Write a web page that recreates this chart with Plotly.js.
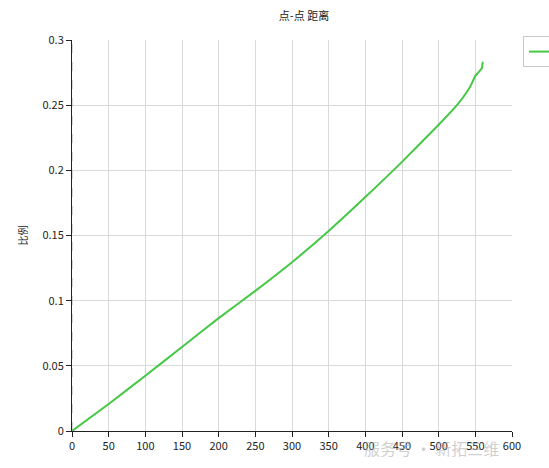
<!DOCTYPE html>
<html>
<head>
<meta charset="utf-8">
<script src="https://cdn.plot.ly/plotly-3.0.1.min.js"></script>
<style>html,body{margin:0;padding:0;background:#fff;}#chart{width:549px;height:468px;}</style>
</head>
<body>
<div id="chart"></div>
<script>
const distance = [0, 50, 100, 150, 200, 250, 300, 350, 400, 450, 500, 525, 540, 545, 550, 554, 557, 559, 560, 561];
const ratio = [0, 0.0207, 0.0424, 0.0645, 0.0866, 0.1075, 0.1295, 0.1535, 0.1795, 0.2065, 0.235, 0.250, 0.2615, 0.2665, 0.2725, 0.2750, 0.2770, 0.2785, 0.2825, 0.2830];
const xTicks = [0, 50, 100, 150, 200, 250, 300, 350, 400, 450, 500, 550, 600];
const yTicks = [0, 0.05, 0.1, 0.15, 0.2, 0.25, 0.3];
const yTickText = ['0', '0.05', '0.1', '0.15', '0.2', '0.25', '0.3'];
const chartTitle = '点-点 距离';
const yTitle = '比例';
const seriesName = '';
const watermark = '服务号 · 新拓三维';

const font = "'Noto Sans CJK SC', 'Open Sans', sans-serif";

const trace = {
  x: distance, y: ratio, type: 'scatter', mode: 'lines', name: seriesName,
  line: {color: '#46c846', width: 2, shape: 'spline', smoothing: 0.5}
};

const layout = {
  width: 549, height: 468,
  margin: {l: 72, r: 37, t: 40, b: 37, autoexpand: false},
  paper_bgcolor: '#fff', plot_bgcolor: '#fff',
  font: {family: font, size: 11, color: '#222'},
  title: {text: chartTitle, x: 304/549, xanchor: 'center', y: 1 - 16/468, yanchor: 'middle',
          font: {family: font, size: 11, color: '#222'}},
  xaxis: {
    range: [0, 600], tickvals: xTicks, ticktext: xTicks.map(String),
    showgrid: true, gridcolor: '#d9d9d9', gridwidth: 1,
    showline: true, linecolor: '#222', linewidth: 1,
    ticks: 'outside', ticklen: 5, tickcolor: '#222', zeroline: false,
    tickfont: {family: font, size: 11, color: '#222'}, fixedrange: true
  },
  yaxis: {
    range: [0, 0.3], tickvals: yTicks, ticktext: yTickText,
    showgrid: true, gridcolor: '#d9d9d9', gridwidth: 1,
    showline: true, linecolor: '#222', linewidth: 1,
    ticks: 'outside', ticklen: 5, tickcolor: '#222', zeroline: false,
    tickfont: {family: font, size: 11, color: '#222'},
    title: {text: yTitle, font: {family: font, size: 10, color: '#222'}, standoff: 12}
  },
  showlegend: true,
  legend: {x: (523-72)/440, xanchor: 'left', y: 1.01, yanchor: 'top',
           bordercolor: '#c8c8c8', borderwidth: 1, bgcolor: '#fff',
           entrywidth: 60, entrywidthmode: 'pixels',
           font: {family: font, size: 12, color: '#222'}},
  shapes: [
    {type: 'line', xref: 'x', yref: 'paper', x0: 0, x1: 0, y0: 0, y1: 1,
     line: {color: '#b0b0b0', width: 1, dash: 'dash'}}
  ],
  annotations: [
    {text: watermark, xref: 'paper', yref: 'paper', x: 535/549, xanchor: 'right',
     y: -3/391, yanchor: 'top', showarrow: false,
     font: {family: font, size: 16, color: 'rgba(175,175,175,0.6)'}}
  ]
};

Plotly.newPlot('chart', [trace], layout, {displayModeBar: false, staticPlot: true});
</script>
</body>
</html>
